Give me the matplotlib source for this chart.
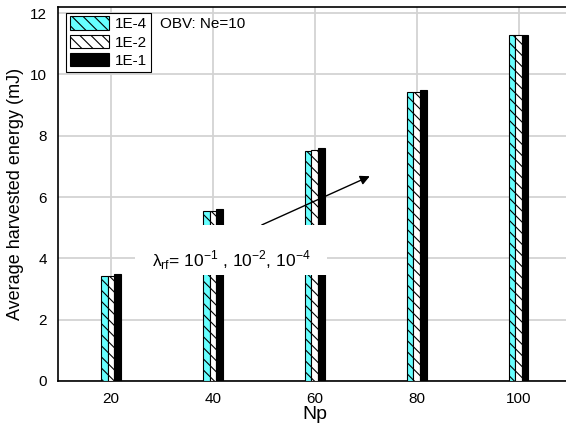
import matplotlib
matplotlib.use('Agg')
import numpy as np
import matplotlib.pyplot as plt
from matplotlib.patches import Rectangle

plt.rcParams['font.family'] = ['Liberation Sans', 'DejaVu Sans']
plt.rcParams['mathtext.fontset'] = 'custom'
plt.rcParams['mathtext.rm'] = 'Liberation Sans'
plt.rcParams['hatch.linewidth'] = 0.8

# data
np_vals = [20, 40, 60, 80, 100]
e_1e4 = [3.42, 5.55, 7.51, 9.42, 11.28]
e_1e2 = [3.42, 5.55, 7.53, 9.42, 11.28]
e_1e1 = [3.49, 5.62, 7.60, 9.49, 11.28]
labels = ['1E-4', '1E-2', '1E-1']

fig = plt.figure(figsize=(5.66, 4.28), dpi=100)
ax = fig.add_axes([58 / 566, 1 - 381 / 428, (572 - 58) / 566, (381 - 7) / 428])

x = np.array(np_vals)
w = 1.3
ax.bar(x - w, e_1e4, w, color='#66ffff', edgecolor='black', hatch='\\\\\\', lw=0.8, label=labels[0], zorder=3)
ax.bar(x, e_1e2, w, color='white', edgecolor='black', hatch='\\\\\\', lw=0.8, label=labels[1], zorder=3)
ax.bar(x + w, e_1e1, w, color='black', edgecolor='black', lw=0.8, label=labels[2], zorder=3)

ax.set_xlim(9.6, 110.5)
ax.set_ylim(0, 12.2)
ax.set_xticks(np_vals)
ax.set_yticks(range(0, 13, 2))
ax.tick_params(length=0, labelsize=11, pad=8)
ax.grid(True, color='#d3d3d3', lw=1.3, zorder=0)
ax.set_axisbelow(True)
ax.spines['right'].set_visible(False)
for s in ['left', 'bottom', 'top']:
    ax.spines[s].set_linewidth(1.2)

ax.set_xlabel('Np', fontsize=14, labelpad=0)
ax.set_ylabel('Average harvested energy (mJ)', fontsize=13, labelpad=4)

leg = ax.legend(loc='upper left', bbox_to_anchor=(0.015, 0.985), fontsize=11,
                fancybox=False, edgecolor='black', framealpha=1,
                handlelength=2.6, handleheight=1.0, handletextpad=0.4,
                labelspacing=0.2, borderpad=0.25, borderaxespad=0)
leg.get_frame().set_linewidth(0.8)

ax.text(0.198, 0.955, 'OBV: Ne=10', transform=ax.transAxes, fontsize=11, va='center')

# white label box covering grid and bars, with the arrow
ax.annotate('', xy=(70.8, 6.68), xytext=(49.6, 5.09),
            arrowprops=dict(arrowstyle='-|>', color='black', lw=1.0,
                            shrinkA=0, shrinkB=0, mutation_scale=14), zorder=4)
ax.add_patch(Rectangle((24.7, 3.46), 37.8, 1.63, fc='white', ec='none', zorder=5))
ax.text(43.7, 3.95, '\u03bb$_{\\mathrm{rf}}$= 10$^{\\mathrm{-1}}$ , 10$^{\\mathrm{-2}}$, 10$^{\\mathrm{-4}}$',
        fontsize=12.5, ha='center', va='center', zorder=6)

fig.savefig('out.png', dpi=100)
